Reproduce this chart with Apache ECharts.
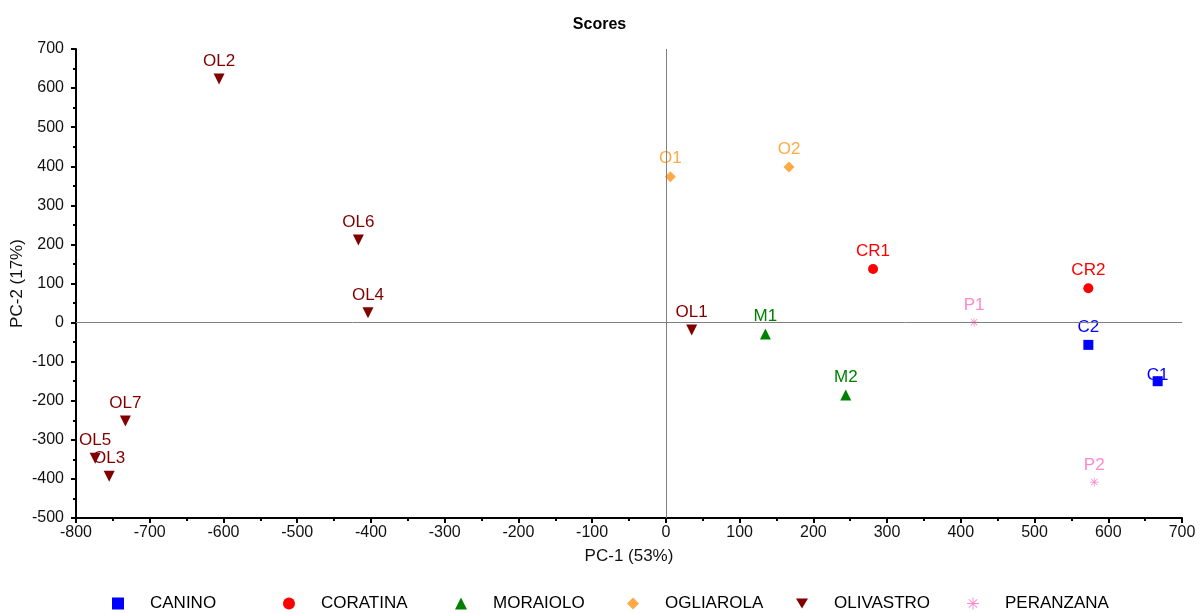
<!DOCTYPE html>
<html><head><meta charset="utf-8">
<script src="https://cdn.jsdelivr.net/npm/echarts@6/dist/echarts.min.js"></script>
<style>html,body{margin:0;padding:0;background:#fff}#c{width:1199px;height:613px}</style>
</head><body><div id="c"></div>
<script>
var groups = ['CANINO','CORATINA','MORAIOLO','OGLIAROLA','OLIVASTRO','PERANZANA'];
var colors = ['#0000ff','#ff0000','#008000','#ffaa44','#800000','#ff88cc'];
var canino = [['C1',667,-150],['C2',573,-57]];
var coratina = [['CR1',281,137],['CR2',573,88]];
var moraiolo = [['M1',135,-29],['M2',244,-185]];
var ogliarola = [['O1',6,373],['O2',167,398]];
var olivastro = [['OL1',35,-19],['OL2',-606,623],['OL3',-755,-393],['OL4',-404,25],['OL5',-774,-347],['OL6',-417,211],['OL7',-733,-252]];
var peranzana = [['P1',418,1],['P2',581,-408]];
var xTicks = {min:-800,max:700,interval:100};
var yTicks = {min:-500,max:700,interval:100};

var star = 'path://M-0.8,-10L0.8,-10L0.8,10L-0.8,10Z M-10,-0.8L10,-0.8L10,0.8L-10,0.8Z M-6.5,-7.64L7.64,6.5L6.5,7.64L-7.64,-6.5Z M-7.64,6.5L6.5,-7.64L7.64,-6.5L-6.5,7.64Z';
var symbols = ['rect','circle','triangle','diamond','path://M0,10L-6,0L6,0Z', star];
var sizes = [10,10,11,11,11,9];
var datas = [canino,coratina,moraiolo,ogliarola,olivastro,peranzana];
var legendLeft = [112,283,455,627,796,967];
var font = 'Liberation Sans, Arial, sans-serif';

var series = groups.map(function(g,i){
  return {
    name:g, type:'scatter', symbol:symbols[i], symbolSize:sizes[i],
    itemStyle:{color:colors[i], opacity:1},
    data: datas[i].map(function(d){
      var o = {name:d[0], value:[d[1],d[2]]};
      if (d[0]==='C1') o.label = {offset:[0,12]};
      return o;
    }),
    label:{show:true, position:'top', distance:4, formatter:'{b}', color:colors[i], fontSize:17, fontFamily:font},
    emphasis:{disabled:true}
  };
});
series[0].markLine = {
  silent:true, symbol:['none','none'], animation:false,
  lineStyle:{color:'#808080', width:1, type:'solid'},
  label:{show:false},
  data:[{xAxis:0},{yAxis:0}]
};

var legends = groups.map(function(g,i){
  return {
    data:[g], left:legendLeft[i], top:595, padding:0, itemWidth:12, itemHeight:12,
    textStyle:{fontSize:17, color:'#000', fontFamily:font, padding:[0,0,0,21]}
  };
});

var chart = echarts.init(document.getElementById('c'));
chart.setOption({
  animation:false,
  title:{text:'Scores', left:'center', top:12, textStyle:{fontSize:16, fontWeight:'bold', color:'#000', fontFamily:font}},
  grid:{left:76, right:17, top:49, bottom:95, containLabel:false, outerBoundsMode:'none'},
  xAxis:{type:'value', min:xTicks.min, max:xTicks.max, interval:xTicks.interval,
    name:'PC-1 (53%)', nameLocation:'middle', nameGap:30, nameMoveOverlap:false,
    nameTextStyle:{fontSize:17, color:'#111', fontFamily:font},
    axisLine:{onZero:false, lineStyle:{color:'#000', width:2}},
    axisTick:{show:true, inside:false, length:5, lineStyle:{color:'#000', width:2}},
    minorTick:{show:true, splitNumber:2, length:3, lineStyle:{color:'#000', width:2}},
    splitLine:{show:false},
    axisLabel:{fontSize:16, color:'#111', margin:7, fontFamily:font}
  },
  yAxis:{type:'value', min:yTicks.min, max:yTicks.max, interval:yTicks.interval,
    name:'PC-2 (17%)', nameLocation:'middle', nameGap:50, nameRotate:90, nameMoveOverlap:false,
    nameTextStyle:{fontSize:17, color:'#111', fontFamily:font},
    axisLine:{show:true, onZero:false, lineStyle:{color:'#000', width:2}},
    axisTick:{show:true, inside:false, length:5, lineStyle:{color:'#000', width:2}},
    minorTick:{show:true, splitNumber:2, length:3, lineStyle:{color:'#000', width:2}},
    splitLine:{show:false},
    axisLabel:{fontSize:16, color:'#111', margin:12, fontFamily:font}
  },
  legend:legends,
  series:series
});
</script>
</body></html>
